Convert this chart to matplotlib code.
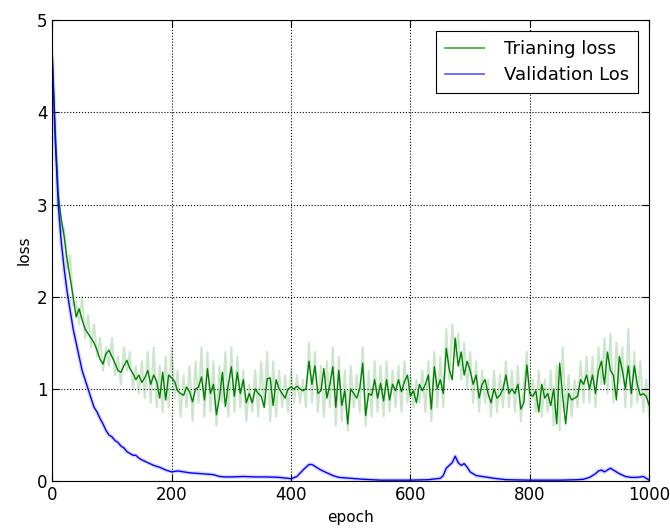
import matplotlib
matplotlib.use('Agg')
import matplotlib.pyplot as plt
import numpy as np
from matplotlib.lines import Line2D

# training loss, one value every 5 epochs (0..1000)
trainEpochs = np.arange(0, 1001, 5)
trainSmooth = [
    4.6, 3.8, 3.1, 2.85, 2.65, 2.4, 2.2, 2.0, 1.78, 1.87, 1.75, 1.65, 1.6, 1.55, 1.5, 1.42, 1.32, 1.27, 1.38, 1.42,
    1.35, 1.28, 1.2, 1.18, 1.25, 1.31, 1.22, 1.17, 1.1, 1.15, 1.07, 1.12, 1.2, 1.05, 1.15, 1.08, 0.9, 1.18, 0.88, 1.15,
    1.12, 1.08, 0.98, 0.95, 0.93, 1.02, 0.97, 0.86, 1.0, 1.02, 1.13, 0.88, 1.22, 0.95, 1.05, 0.72, 0.9, 1.18, 0.81, 1.05,
    1.24, 0.92, 1.18, 0.95, 1.1, 0.85, 0.95, 0.85, 1.0, 0.95, 0.92, 0.8, 1.11, 1.12, 0.82, 1.1, 1.0, 0.95, 0.9, 1.0,
    1.02, 1.0, 1.03, 1.0, 0.98, 1.0, 1.3, 1.05, 1.25, 0.95, 0.98, 1.22, 0.9, 1.05, 1.24, 0.8, 1.2, 0.82, 0.98, 0.62,
    1.0, 0.95, 0.9, 1.0, 1.28, 0.71, 0.95, 0.93, 1.1, 0.9, 1.06, 0.87, 1.1, 0.88, 1.05, 0.98, 1.1, 0.97, 1.08, 1.15,
    0.92, 0.98, 0.85, 1.05, 0.98, 1.05, 1.15, 0.78, 1.24, 1.0, 1.1, 0.95, 1.44, 1.21, 1.1, 1.55, 1.25, 1.4, 1.15, 1.3,
    1.2, 1.05, 1.15, 0.9, 1.05, 1.1, 0.95, 0.85, 1.0, 0.9, 0.93, 1.0, 1.15, 0.95, 1.0, 0.95, 1.05, 0.78, 0.85, 1.26,
    0.95, 0.92, 0.98, 0.75, 1.05, 0.9, 0.95, 0.82, 1.0, 0.62, 1.28, 0.92, 0.62, 0.95, 0.88, 0.9, 0.92, 1.1, 1.05, 1.15,
    1.0, 1.15, 0.95, 1.2, 1.3, 1.05, 1.4, 1.2, 1.15, 0.88, 1.35, 1.2, 1.0, 1.25, 0.95, 1.25, 1.05, 0.93, 0.95, 0.92, 0.82,
]
trainRaw = [
    4.6, 3.7, 3.2, 2.7, 2.75, 2.3, 2.45, 1.9, 1.95, 1.7, 2.0, 1.55, 1.8, 1.45, 1.7, 1.35, 1.55, 1.2, 1.45, 1.25,
    1.55, 1.15, 1.35, 1.05, 1.45, 1.2, 1.4, 1.0, 1.25, 0.95, 1.3, 0.9, 1.4, 0.85, 1.45, 0.8, 1.25, 0.75, 1.35, 0.8,
    1.45, 0.9, 1.2, 0.7, 1.15, 0.8, 1.25, 0.65, 1.3, 0.85, 1.45, 0.7, 1.4, 0.75, 1.3, 0.6, 1.25, 0.85, 1.4, 0.7,
    1.45, 0.75, 1.35, 0.8, 1.2, 0.65, 1.05, 0.75, 1.2, 0.7, 1.3, 0.8, 1.4, 0.65, 1.3, 0.7, 1.2, 0.8, 1.15, 0.75,
    1.2, 0.85, 1.15, 0.85, 1.1, 0.8, 1.5, 0.85, 1.4, 0.75, 1.25, 0.7, 1.3, 0.8, 1.45, 0.6, 1.35, 0.65, 1.2, 0.55,
    1.25, 0.8, 1.15, 0.75, 1.45, 0.6, 1.2, 0.7, 1.3, 0.75, 1.25, 0.7, 1.3, 0.75, 1.2, 0.8, 1.25, 0.75, 1.3, 0.85,
    1.15, 0.8, 1.1, 0.85, 1.2, 0.75, 1.3, 0.65, 1.4, 0.8, 1.35, 0.8, 1.65, 1.1, 1.7, 1.35, 1.6, 1.1, 1.5, 1.0,
    1.4, 0.85, 1.3, 0.75, 1.2, 0.85, 1.1, 0.7, 1.2, 0.75, 1.15, 0.8, 1.3, 0.8, 1.2, 0.75, 1.25, 0.65, 1.05, 1.4,
    0.8, 1.1, 0.75, 1.2, 0.7, 1.1, 0.75, 1.2, 0.6, 1.25, 0.55, 1.45, 0.75, 1.15, 0.7, 1.1, 0.8, 1.3, 0.85, 1.35,
    0.85, 1.35, 0.8, 1.45, 1.05, 1.55, 0.95, 1.6, 0.85, 1.5, 1.05, 1.45, 0.8, 1.65, 0.8, 1.4, 0.85, 1.3, 0.75, 1.1, 0.7,
]

# validation loss
valEpochs = [0, 5, 10, 15, 20, 25, 30, 35, 40, 45, 50, 55, 60, 65, 70, 75, 80, 85, 90, 95,
             100, 105, 110, 115, 120, 125, 130, 135, 140, 145, 150, 160, 170, 180, 190, 200,
             210, 220, 230, 240, 250, 260, 270, 280, 290, 300, 320, 340, 360, 380, 395, 400,
             410, 420, 430, 435, 440, 450, 460, 470, 480, 500, 520, 550, 580, 600, 630, 650,
             655, 660, 665, 670, 675, 680, 685, 690, 695, 700, 710, 720, 740, 760, 800, 850,
             880, 890, 900, 910, 915, 920, 925, 930, 935, 940, 950, 960, 970, 980, 990, 995, 1000]
valLoss = [4.6, 3.7, 3.0, 2.6, 2.3, 2.05, 1.85, 1.65, 1.5, 1.35, 1.2, 1.1, 1.0, 0.9, 0.8, 0.75, 0.68, 0.62, 0.55, 0.5,
           0.48, 0.44, 0.42, 0.38, 0.36, 0.32, 0.30, 0.28, 0.28, 0.25, 0.23, 0.2, 0.17, 0.15, 0.12, 0.1,
           0.11, 0.1, 0.09, 0.085, 0.08, 0.075, 0.07, 0.05, 0.045, 0.045, 0.05, 0.045, 0.045, 0.04, 0.03, 0.025,
           0.05, 0.12, 0.18, 0.18, 0.16, 0.12, 0.09, 0.06, 0.04, 0.03, 0.02, 0.01, 0.01, 0.01, 0.015, 0.03,
           0.06, 0.14, 0.17, 0.2, 0.27, 0.2, 0.17, 0.19, 0.15, 0.1, 0.06, 0.05, 0.03, 0.015, 0.01, 0.01,
           0.015, 0.02, 0.04, 0.08, 0.11, 0.12, 0.1, 0.12, 0.14, 0.12, 0.08, 0.05, 0.04, 0.04, 0.05, 0.03, 0.01]

fig = plt.figure(figsize=(6.7, 5.31), dpi=100)
ax = fig.add_axes([0.078, 0.094, 0.891, 0.868])

ax.plot(trainEpochs, trainRaw, color='g', alpha=0.2, linewidth=1.5)
ax.plot(trainEpochs, trainSmooth, color='g', linewidth=1.0)
ax.plot(valEpochs, valLoss, color='b', alpha=0.15, linewidth=3)
ax.plot(valEpochs, valLoss, color='b', linewidth=1.0)

ax.set_xlim(0, 1000)
ax.set_ylim(0, 5)
ax.set_xticks([0, 200, 400, 600, 800, 1000])
ax.set_yticks([0, 1, 2, 3, 4, 5])
ax.grid(True, color='k', linestyle=':', linewidth=0.8)
ax.tick_params(direction='in', top=True, right=True, labelsize=12, length=5)
for s in ax.spines.values():
    s.set_color('k')
ax.set_xlabel('epoch', fontsize=11)
ax.set_ylabel('loss', fontsize=11)

handles = [Line2D([], [], color='#3aa83a', linewidth=1.2),
           Line2D([], [], color='#5555ff', linewidth=1.2)]
leg = ax.legend(handles, ['Trianing loss', 'Validation Los'], loc='upper right',
                fontsize=13, fancybox=False, framealpha=1, edgecolor='k',
                handlelength=2.2, handletextpad=1.1, borderpad=0.5, labelspacing=0.45,
                borderaxespad=0.6)
leg.get_frame().set_linewidth(0.8)

plt.savefig('out.png')
